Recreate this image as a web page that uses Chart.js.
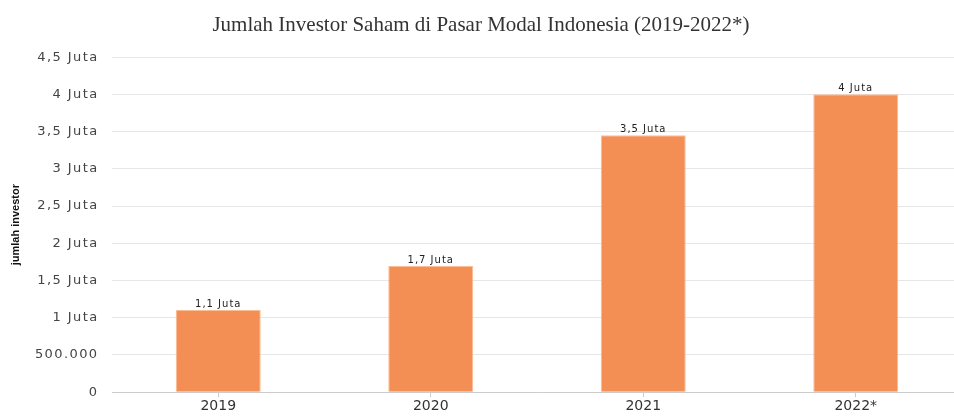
<!DOCTYPE html>
<html>
<head>
<meta charset="utf-8">
<script src="https://cdn.jsdelivr.net/npm/chart.js@4"></script>
<style>
html,body{margin:0;padding:0;background:#fff;overflow:hidden;}
#wrap{width:962px;height:417px;position:relative;}
</style>
</head>
<body>
<div id="wrap"><canvas id="c" width="962" height="417"></canvas></div>
<script>
const categories = ["2019", "2020", "2021", "2022*"];
const investors = [1104610, 1695268, 3451513, 4002289];
const barLabels = ["1,1 Juta", "1,7 Juta", "3,5 Juta", "4 Juta"];
const yTickValues = [0, 500000, 1000000, 1500000, 2000000, 2500000, 3000000, 3500000, 4000000, 4500000];
const yTickLabels = ["0", "500.000", "1 Juta", "1,5 Juta", "2 Juta", "2,5 Juta", "3 Juta", "3,5 Juta", "4 Juta", "4,5 Juta"];

// slightly wider letter spacing for the value-axis labels, drawn by the library itself
const LinearScale = Chart.registry.getScale('linear');
const origDrawLabels = LinearScale.prototype.drawLabels;
LinearScale.prototype.drawLabels = function (area) {
  this.ctx.save();
  this.ctx.letterSpacing = '1.4px';
  origDrawLabels.call(this, area);
  this.ctx.restore();
};

const barLabelPlugin = {
  id: 'barLabels',
  afterDatasetsDraw(chart) {
    const ctx = chart.ctx;
    const meta = chart.getDatasetMeta(0);
    ctx.save();
    ctx.font = '10px "DejaVu Sans"';
    ctx.letterSpacing = '1px';
    ctx.fillStyle = '#222';
    ctx.textAlign = 'center';
    ctx.textBaseline = 'alphabetic';
    meta.data.forEach((bar, i) => {
      ctx.fillText(barLabels[i], bar.x, bar.y - 3);
    });
    ctx.restore();
  }
};

new Chart(document.getElementById('c'), {
  type: 'bar',
  data: {
    labels: categories,
    datasets: [{
      data: investors,
      backgroundColor: 'rgba(242,135,72,0.93)',
      borderColor: 'rgba(250,190,150,1)',
      borderWidth: 1,
      barPercentage: 0.4,
      categoryPercentage: 1.0
    }]
  },
  options: {
    responsive: false,
    animation: false,
    layout: { padding: { left: 0, right: 0, top: 0, bottom: 1 } },
    plugins: {
      legend: { display: false },
      tooltip: { enabled: false },
      title: {
        display: true,
        text: 'Jumlah Investor Saham di Pasar Modal Indonesia (2019-2022*)',
        font: { family: '"Liberation Serif", serif', size: 21, weight: 'normal' },
        color: '#333',
        padding: { top: 13, bottom: 19 }
      }
    },
    scales: {
      x: {
        grid: { drawOnChartArea: false, drawTicks: true, tickLength: 5, color: '#ccc', offset: false },
        border: { color: '#ccc' },
        ticks: { font: { family: '"DejaVu Sans"', size: 14 }, color: '#333', padding: 1 }
      },
      y: {
        min: 0,
        max: 4500000,
        afterFit(scale) { scale.width = 112; },
        afterBuildTicks(scale) { scale.ticks = yTickValues.map(v => ({ value: v })); },
        grid: { color: '#e6e6e6', drawTicks: false, tickLength: 0 },
        border: { display: false },
        ticks: {
          font: { family: '"DejaVu Sans"', size: 13 },
          color: '#444',
          padding: 13.5,
          callback(value) { const i = yTickValues.indexOf(value); return i >= 0 ? yTickLabels[i] : ''; }
        },
        title: {
          display: true,
          text: 'jumlah investor',
          font: { family: '"Liberation Sans", Arial, sans-serif', size: 11, weight: 'bold' },
          color: '#111',
          padding: { top: 9, bottom: 0 }
        }
      }
    }
  },
  plugins: [barLabelPlugin]
});
</script>
</body>
</html>
